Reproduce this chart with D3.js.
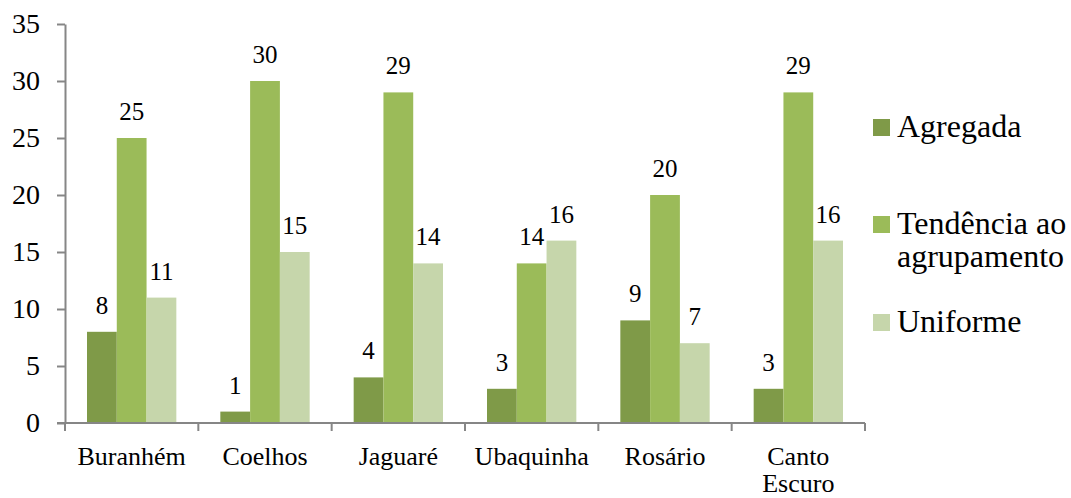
<!DOCTYPE html>
<html>
<head>
<meta charset="utf-8">
<script src="https://cdn.jsdelivr.net/npm/d3@7"></script>
</head>
<body style="margin:0">
<svg id="chart" width="1071" height="498" font-family="Liberation Serif"></svg>
<script>
// Localidades e distribuição espacial
const categories = ["Buranhém", "Coelhos", "Jaguaré", "Ubaquinha", "Rosário", "Canto Escuro"];
const seriesNames = ["Agregada", "Tendência ao agrupamento", "Uniforme"];
const agregada = [8, 1, 4, 3, 9, 3];
const tendencia = [25, 30, 29, 14, 20, 29];
const uniforme = [11, 15, 14, 16, 7, 16];
const yTicks = [0, 5, 10, 15, 20, 25, 30, 35];
const colors = ["#7f9a48", "#9bbb59", "#c6d6ab"];

const seriesValues = [agregada, tendencia, uniforme];
const serif = '"Liberation Serif"';

const svg = d3.select("#chart");
const plot = { left: 65, right: 865, top: 24, bottom: 423 };

const x = d3.scaleBand().domain(categories).range([plot.left, plot.right]).padding(0);
const inner = d3.scaleBand().domain(seriesNames)
  .range([22, x.bandwidth() - 22]).padding(0);
const y = d3.scaleLinear().domain([0, 35]).range([plot.bottom, plot.top]);

const axisColor = "#868686";

// Barras
const groups = svg.append("g").selectAll("g")
  .data(categories)
  .join("g")
  .attr("transform", d => `translate(${x(d)},0)`);

const cells = (c, i) => seriesNames.map((s, k) => ({ s, k, v: seriesValues[k][i] }));

groups.selectAll("rect")
  .data(cells)
  .join("rect")
  .attr("x", d => inner(d.s))
  .attr("y", d => y(d.v))
  .attr("width", inner.bandwidth())
  .attr("height", d => y(0) - y(d.v))
  .attr("fill", d => colors[d.k]);

// Rótulos de valores
groups.selectAll("text")
  .data(cells)
  .join("text")
  .attr("x", d => inner(d.s) + inner.bandwidth() / 2)
  .attr("y", d => y(d.v) - 18)
  .attr("text-anchor", "middle")
  .attr("font-size", 25)
  .style("font-family", serif)
  .attr("fill", "#000")
  .text(d => d.v);

// Eixo Y
const yAxis = svg.append("g")
  .attr("transform", `translate(${plot.left},0)`)
  .call(d3.axisLeft(y).tickValues(yTicks).tickSize(8).tickSizeOuter(0).tickPadding(17));
yAxis.attr("font-family", "Liberation Serif").attr("font-size", 28);
yAxis.select(".domain").attr("stroke", axisColor).attr("stroke-width", 2);
yAxis.selectAll(".tick line").attr("stroke", axisColor).attr("stroke-width", 2);
yAxis.selectAll(".tick text").style("font-family", serif).attr("fill", "#000");

// Eixo X com marcas entre as categorias
const xBoundaries = categories.map(c => x(c)).concat([plot.right]);
const xAxis = svg.append("g");
xAxis.append("line")
  .attr("x1", plot.left - 8).attr("x2", plot.right)
  .attr("y1", y(0)).attr("y2", y(0))
  .attr("stroke", axisColor).attr("stroke-width", 2);
xAxis.selectAll("line.tick")
  .data(xBoundaries)
  .join("line")
  .attr("class", "tick")
  .attr("x1", d => d).attr("x2", d => d)
  .attr("y1", y(0)).attr("y2", y(0) + 8)
  .attr("stroke", axisColor).attr("stroke-width", 2);

xAxis.selectAll("text")
  .data(categories)
  .join("text")
  .attr("x", d => x(d) + x.bandwidth() / 2)
  .attr("y", 465)
  .attr("text-anchor", "middle")
  .attr("font-size", 26)
  .style("font-family", serif)
  .attr("fill", "#000")
  .each(function (d) {
    const words = d === "Canto Escuro" ? ["Canto", "Escuro"] : [d];
    const t = d3.select(this);
    words.forEach((w, i) => {
      t.append("tspan")
        .attr("x", x(d) + x.bandwidth() / 2)
        .attr("dy", i === 0 ? 0 : 27)
        .text(w);
    });
  });

// Legenda
const legendItems = [
  { lines: ["Agregada"], top: 119 },
  { lines: ["Tendência ao", "agrupamento"], top: 216 },
  { lines: ["Uniforme"], top: 314 }
];
const li = svg.append("g").selectAll("g").data(legendItems).join("g")
  .attr("transform", d => `translate(873,${d.top})`);
li.append("rect")
  .attr("width", 17).attr("height", 17)
  .attr("fill", (d, i) => colors[i]);
li.append("text")
  .attr("x", 24)
  .attr("y", 18)
  .attr("font-size", 32)
  .style("font-family", serif)
  .attr("fill", "#000")
  .each(function (d) {
    const t = d3.select(this);
    d.lines.forEach((w, i) => {
      t.append("tspan").attr("x", 24).attr("dy", i === 0 ? 0 : 33).text(w);
    });
  });
</script>
</body>
</html>
